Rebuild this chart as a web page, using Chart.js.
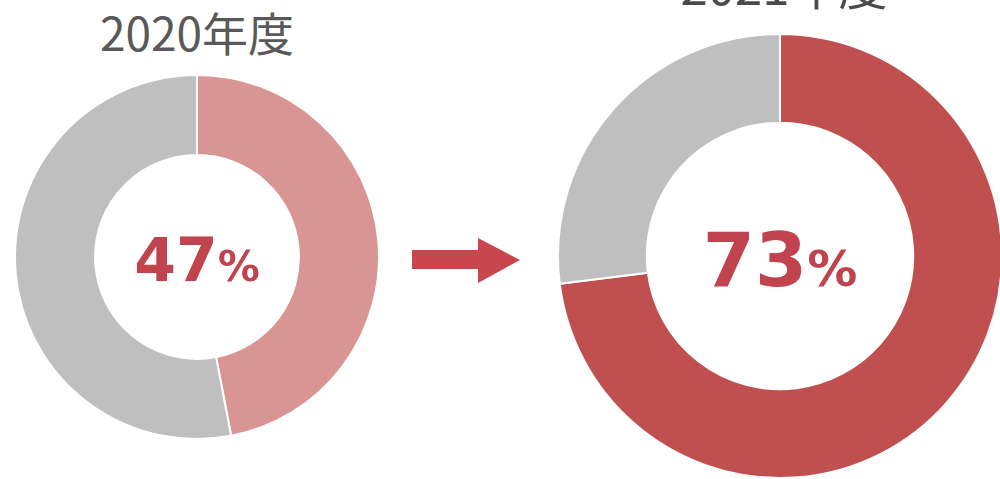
<!DOCTYPE html>
<html lang="ja">
<head>
<meta charset="UTF-8">
<title>年度比較</title>
<script src="https://cdn.jsdelivr.net/npm/chart.js"></script>
<style>
  html, body { margin: 0; padding: 0; background: #fff; overflow: hidden; }
  body { width: 1000px; height: 479px; position: relative; }
  .box { position: absolute; }
  .title { position: absolute; font-family: "Noto Sans CJK JP", sans-serif; color: #595959; white-space: nowrap; transform: translateX(-50%); }
  #arrow { position: absolute; left: 410px; top: 236px; }
</style>
</head>
<body>
  <div class="title" id="t0" style="left:197px; top:8px; font-size:46px; line-height:1;"></div>
  <div class="title" id="t1" style="left:784px; top:-41px; font-size:49px; line-height:1; color:#4a4a4a;"></div>

  <div class="box" style="left:14px; top:74px; width:366px; height:366px;"><canvas id="c0"></canvas></div>
  <div class="box" style="left:557px; top:33px; width:446px; height:446px;"><canvas id="c1"></canvas></div>

  <svg id="arrow" width="115" height="50">
    <rect x="2" y="14" width="70" height="19" fill="#c8474c"/>
    <polygon points="68,2 110,24 68,47" fill="#c8474c"/>
  </svg>

<script>
const years = ['2020年度', '2021年度'];
const segments = ['該当', 'その他'];
const rates = [47, 73];
const rest = [53, 27];
const mainColors = ['#d99494', '#c0504f'];
const greyColor = '#bfbfbf';

// 中央のパーセント表示
const centerText = {
  id: 'centerText',
  afterDraw(chart, args, opts) {
    const ctx = chart.ctx;
    const meta = chart.getDatasetMeta(0).data[0];
    const x = meta.x, y = meta.y;
    const num = String(opts.value);
    ctx.save();
    ctx.fillStyle = '#c0434d';
    ctx.textBaseline = 'alphabetic';
    ctx.font = 'bold ' + opts.big + 'px "DejaVu Sans"';
    const w1 = ctx.measureText(num).width;
    ctx.font = 'bold ' + opts.small + 'px "DejaVu Sans"';
    const w2 = ctx.measureText('%').width;
    const start = x - (w1 + w2) / 2 + opts.dx;
    ctx.font = 'bold ' + opts.big + 'px "DejaVu Sans"';
    ctx.fillText(num, start, y + opts.dy);
    ctx.font = 'bold ' + opts.small + 'px "DejaVu Sans"';
    ctx.fillText('%', start + w1, y + opts.dy);
    ctx.restore();
  }
};

function makeChart(i, cut, big, small, dy) {
  document.getElementById('t' + i).textContent = years[i];
  new Chart(document.getElementById('c' + i), {
    type: 'doughnut',
    data: {
      labels: segments,
      datasets: [{
        data: [rates[i], rest[i]],
        backgroundColor: [mainColors[i], greyColor],
        borderColor: '#ffffff',
        borderWidth: 2
      }]
    },
    options: {
      responsive: true,
      maintainAspectRatio: false,
      animation: false,
      cutout: cut,
      layout: { padding: 0 },
      plugins: {
        legend: { display: false },
        tooltip: { enabled: false },
        centerText: { value: rates[i], big: big, small: small, dx: 0, dy: dy }
      }
    },
    plugins: [centerText]
  });
}

makeChart(0, '56%', 60, 42, 24);
makeChart(1, '60%', 75, 50, 30);
</script>
</body>
</html>
